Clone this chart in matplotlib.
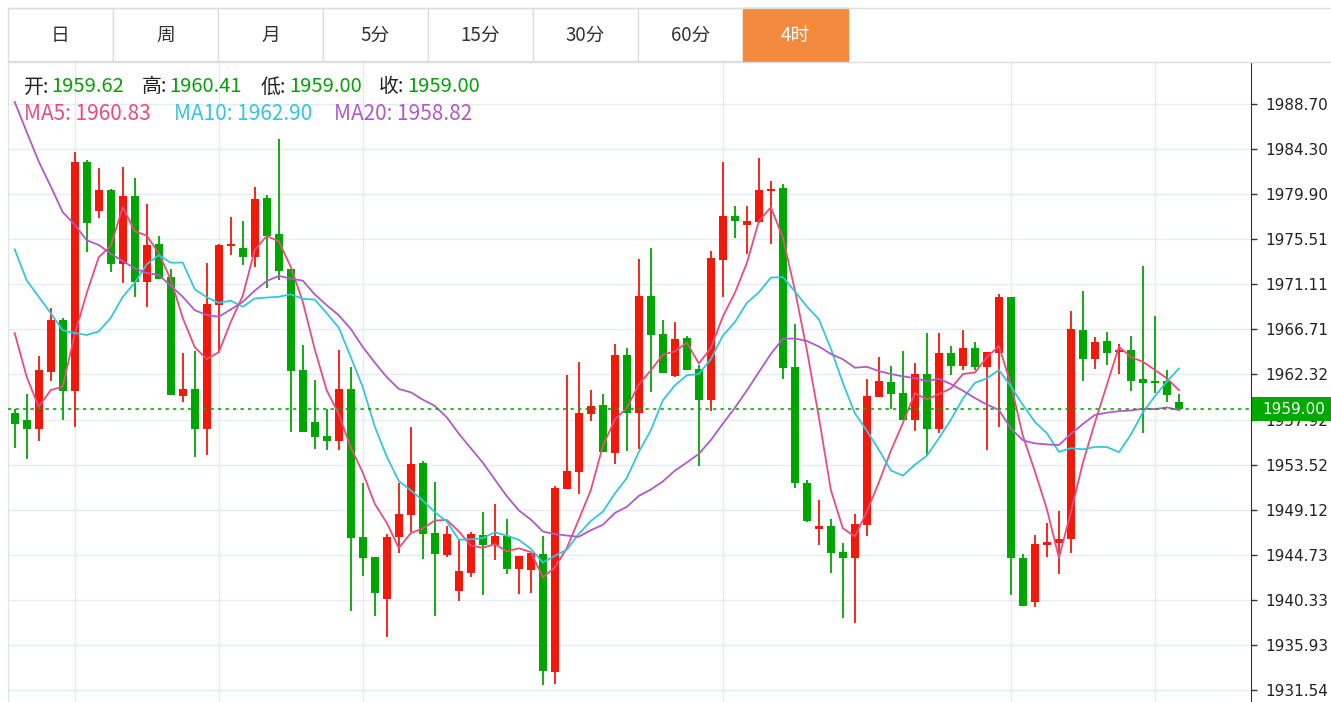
import numpy as np
import pandas as pd
import matplotlib
matplotlib.use('Agg')
import matplotlib.pyplot as plt
from matplotlib.patches import Rectangle
from matplotlib.lines import Line2D

plt.rcParams['font.family'] = ['Noto Sans CJK SC', 'DejaVu Sans']

tabs = ['日', '周', '月', '5分', '15分', '30分', '60分', '4时']
active_tab = '4时'

open_ = [1958.52, 1957.88, 1957.03, 1962.58, 1967.63, 1960.73, 1983.06, 1978.22, 1980.28, 1973.10,
         1979.68, 1971.32, 1975.02, 1971.82, 1960.23, 1960.91, 1957.03, 1969.12, 1974.84, 1974.66,
         1973.74, 1979.50, 1976.05, 1972.57, 1962.72, 1957.71, 1956.32, 1955.82, 1960.94, 1946.43,
         1944.51, 1940.39, 1946.43, 1948.64, 1953.72, 1946.86, 1944.73, 1941.17, 1942.95, 1946.65,
         1945.72, 1946.58, 1943.31, 1943.24, 1944.84, 1933.28, 1951.13, 1952.83, 1958.45, 1959.31,
         1954.68, 1964.21, 1958.52, 1969.97, 1966.27, 1962.15, 1965.88, 1962.86, 1959.87, 1973.46,
         1977.79, 1976.94, 1977.19, 1980.21, 1980.50, 1963.07, 1951.77, 1947.22, 1947.57, 1945.01,
         1944.37, 1947.68, 1960.09, 1961.62, 1960.55, 1957.88, 1962.33, 1957.03, 1964.39, 1963.14,
         1964.92, 1963.07, 1964.39, 1969.83, 1944.44, 1940.14, 1945.72, 1945.90, 1946.26, 1966.70,
         1963.79, 1965.63, 1964.50, 1964.74, 1961.87, 1961.62, 1961.72, 1959.62]
high = [1958.95, 1960.37, 1964.14, 1968.76, 1967.87, 1984.05, 1983.23, 1982.42, 1980.39, 1982.56,
        1981.46, 1978.93, 1975.80, 1972.57, 1964.43, 1964.57, 1973.21, 1975.02, 1977.72, 1977.30,
        1980.57, 1979.86, 1985.26, 1972.57, 1965.21, 1961.79, 1958.95, 1964.74, 1963.07, 1951.70,
        1944.51, 1946.79, 1951.77, 1957.21, 1953.90, 1951.84, 1947.57, 1946.26, 1947.00, 1948.92,
        1949.71, 1948.21, 1944.59, 1944.91, 1946.61, 1951.41, 1962.22, 1963.50, 1960.80, 1960.41,
        1965.28, 1964.92, 1973.63, 1974.70, 1967.59, 1967.48, 1966.10, 1963.25, 1974.34, 1983.06,
        1978.72, 1978.72, 1983.41, 1981.17, 1980.92, 1967.23, 1952.02, 1950.06, 1948.21, 1945.90,
        1948.75, 1961.87, 1964.00, 1963.14, 1964.57, 1963.43, 1966.35, 1966.35, 1965.10, 1966.70,
        1965.46, 1964.50, 1970.19, 1969.83, 1944.84, 1946.68, 1947.79, 1949.03, 1968.48, 1970.43,
        1966.00, 1966.42, 1965.28, 1966.06, 1972.92, 1968.05, 1962.79, 1960.41]
low = [1955.15, 1954.04, 1955.86, 1961.65, 1957.92, 1957.17, 1974.27, 1977.62, 1972.32, 1971.22,
       1969.83, 1968.90, 1971.61, 1960.30, 1959.59, 1954.26, 1954.51, 1964.50, 1973.95, 1973.03,
       1972.82, 1970.75, 1971.54, 1956.75, 1956.67, 1955.04, 1954.97, 1954.97, 1939.25, 1942.67,
       1938.79, 1936.73, 1944.94, 1946.97, 1944.30, 1938.79, 1944.48, 1940.21, 1942.60, 1940.82,
       1944.20, 1942.81, 1940.89, 1941.03, 1932.04, 1932.14, 1951.13, 1950.70, 1957.74, 1954.79,
       1953.62, 1954.90, 1955.04, 1960.59, 1962.43, 1962.08, 1962.72, 1953.37, 1958.77, 1969.90,
       1975.66, 1974.06, 1977.08, 1975.06, 1961.90, 1951.23, 1947.93, 1945.72, 1942.95, 1938.54,
       1938.08, 1946.61, 1960.09, 1958.95, 1957.88, 1956.82, 1954.33, 1956.57, 1962.26, 1962.72,
       1962.79, 1954.97, 1957.17, 1940.82, 1939.75, 1939.61, 1944.48, 1942.81, 1944.94, 1961.72,
       1962.86, 1963.22, 1962.36, 1960.66, 1956.57, 1960.48, 1959.59, 1959.00]
close = [1957.46, 1957.03, 1962.79, 1967.63, 1960.73, 1983.06, 1977.08, 1980.28, 1973.10, 1979.68,
         1971.32, 1974.95, 1971.68, 1960.30, 1960.94, 1957.03, 1969.19, 1974.95, 1975.09, 1973.74,
         1979.43, 1975.87, 1972.46, 1962.61, 1956.67, 1956.21, 1955.82, 1960.94, 1946.36, 1944.41,
         1940.96, 1946.51, 1948.71, 1953.62, 1946.72, 1944.80, 1946.79, 1943.13, 1946.72, 1945.65,
         1946.54, 1943.31, 1944.59, 1944.91, 1933.35, 1951.23, 1952.91, 1958.52, 1959.23, 1954.79,
         1964.21, 1958.52, 1969.97, 1966.13, 1962.43, 1965.81, 1962.72, 1959.87, 1973.70, 1977.79,
         1977.30, 1977.30, 1980.32, 1980.46, 1962.97, 1951.70, 1948.03, 1947.50, 1944.94, 1944.37,
         1947.75, 1960.19, 1961.72, 1960.37, 1957.88, 1962.36, 1957.03, 1964.39, 1963.14, 1964.92,
         1963.07, 1964.50, 1969.83, 1944.37, 1939.75, 1945.83, 1945.97, 1946.26, 1966.77, 1963.79,
         1965.46, 1964.39, 1964.74, 1961.72, 1961.44, 1961.47, 1960.30, 1959.00]

# moving average values before enough bars exist
ma5_head = [1966.35, 1962.08, 1959.16, 1960.80]
ma10_head = [1974.52, 1971.50, 1969.90, 1968.30, 1966.63, 1966.35, 1966.17, 1966.52, 1967.84]
ma20_head = [1988.90, 1985.97, 1983.10, 1980.67, 1978.15, 1976.94, 1975.41, 1974.95, 1974.10, 1973.39,
             1972.67, 1972.21, 1972.03, 1970.97, 1969.90, 1968.59, 1968.12, 1967.95, 1968.66]

y_ticks = [1931.54, 1935.93, 1940.33, 1944.73, 1949.12, 1953.52, 1957.92, 1962.32,
           1966.71, 1971.11, 1975.51, 1979.90, 1984.30, 1988.70]
v_grid = [5, 17, 29, 59, 83, 95]

last_price = 1959.00
ma_last = {'MA5': 1960.83, 'MA10': 1962.90, 'MA20': 1958.82}

W, H = 1331, 702
RED = '#f2190a'
GREEN = '#00a600'
MA_COLORS = {'MA5': '#ea4c7c', 'MA10': '#33c6dc', 'MA20': '#b05ac8'}
GRID = '#e4ebf2'


def fx(x):
    return x / W


def fy(y):
    return 1 - y / H


def moving_avg(values, n, head):
    ma = pd.Series(values).rolling(n).mean().to_numpy()
    ma[:n - 1] = head
    return ma


fig = plt.figure(figsize=(W / 100, H / 100), dpi=100)

# tab bar
for i, t in enumerate(tabs):
    x0 = 8 + 105 * i
    face = '#f28b3e' if t == active_tab else 'white'
    edge = '#f28b3e' if t == active_tab else '#dddddd'
    fig.add_artist(Rectangle((fx(x0), fy(61)), 105 / W, 53 / H, transform=fig.transFigure,
                             facecolor=face, edgecolor=edge, linewidth=1))
    fig.text(fx(x0 + 52.5), fy(35), t, ha='center', va='center', fontsize=13.5,
             color='white' if t == active_tab else '#333333')
fig.add_artist(Line2D([fx(8), 1], [fy(8), fy(8)], transform=fig.transFigure, color='#dddddd', lw=1))
fig.add_artist(Line2D([fx(8), 1], [fy(61.5), fy(61.5)], transform=fig.transFigure, color='#dddddd', lw=1))

ax = fig.add_axes([fx(7.5), 0, (1251 - 7.5) / W, (702 - 62) / H])
ax.set_xlim(-0.6, 103.0)
ax.set_ylim(1930.37, 1992.80)

x = np.arange(len(close))
o = np.array(open_)
c = np.array(close)
colors = [RED if c[i] >= o[i] else GREEN for i in range(len(c))]

ax.vlines(x, low, high, colors=colors, linewidth=1.3, zorder=3)
bottoms = np.minimum(o, c)
heights = np.maximum(np.abs(c - o), 0.18)
ax.bar(x, heights, bottom=bottoms, width=0.68, color=colors, zorder=4)

ma_lines = {
    'MA5': moving_avg(close, 5, ma5_head),
    'MA10': moving_avg(close, 10, ma10_head),
    'MA20': moving_avg(close, 20, ma20_head),
}
for name, vals in ma_lines.items():
    ax.plot(x, vals, color=MA_COLORS[name], linewidth=1.3, zorder=5)

ax.axhline(last_price, color='#1a9e1a', linestyle=(0, (2, 2.5)), linewidth=1.2, zorder=6)

ax.set_yticks(y_ticks)
ax.set_yticklabels(['%.2f' % v for v in y_ticks], family='DejaVu Sans', fontsize=11, color='#222222')
ax.yaxis.tick_right()
ax.tick_params(axis='y', length=4, width=1, color='#333333', pad=6)
ax.set_xticks([])
ax.grid(axis='y', color=GRID, linewidth=1)
for v in v_grid:
    ax.axvline(v, color=GRID, linewidth=1, zorder=0)
ax.set_axisbelow(True)
for side in ['top', 'bottom']:
    ax.spines[side].set_visible(False)
ax.spines['left'].set_color('#dde4ec')
ax.spines['right'].set_color('#333333')

# current price tag on the axis, covering part of the label below it as in the original
fig.add_artist(Rectangle((fx(1252), fy(421)), (W - 1252) / W, 24 / H, transform=fig.transFigure,
                         facecolor='#00a800', edgecolor='none', zorder=10))
fig.text(fx(1262), fy(409), '%.2f' % last_price, ha='left', va='center', family='DejaVu Sans',
         fontsize=11, color='white', zorder=11)

# OHLC header
header = [('开:', 24, 51, open_[-1]), ('高:', 142, 169, high[-1]),
          ('低:', 261, 289, low[-1]), ('收:', 379, 407, close[-1])]
for label, lx, vx, val in header:
    fig.text(fx(lx), fy(87), label, ha='left', va='center', fontsize=14.3, color='#222222')
    fig.text(fx(vx), fy(87), '%.2f' % val, ha='left', va='center', fontsize=14.5, color='#0a9e0a')

for (name, val), mx in zip(ma_last.items(), [24, 174, 334]):
    fig.text(fx(mx), fy(114), '%s: %.2f' % (name, val), ha='left', va='center',
             fontsize=15, color=MA_COLORS[name])

fig.savefig('out.png', dpi=100)
